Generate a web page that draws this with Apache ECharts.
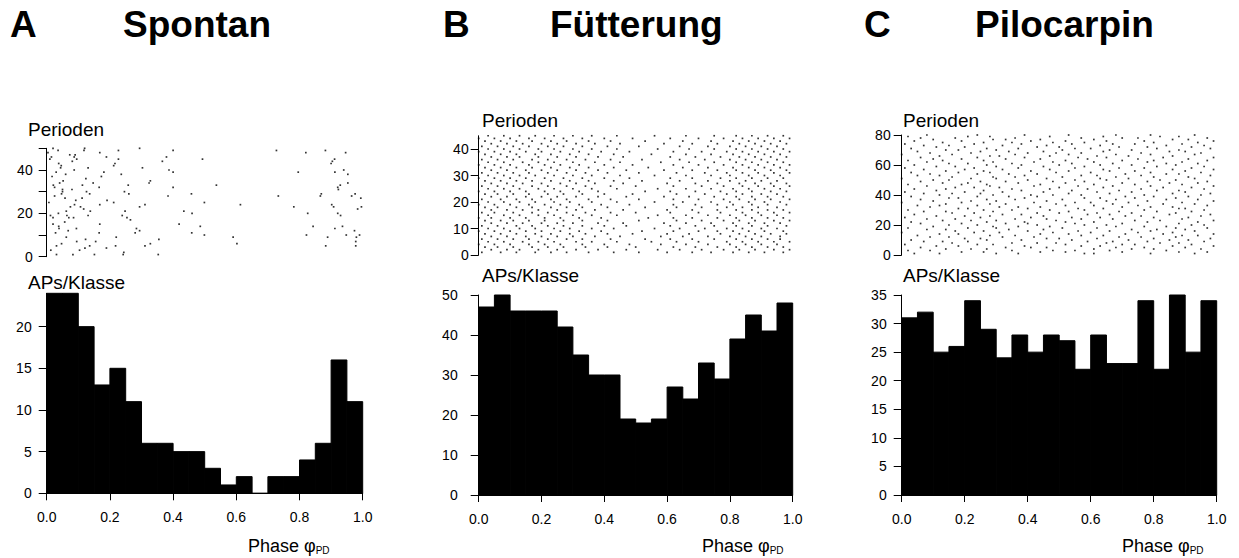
<!DOCTYPE html>
<html>
<head>
<meta charset="utf-8">
<script src="https://cdn.jsdelivr.net/npm/echarts@6/dist/echarts.min.js"></script>
<style>
  html, body { margin: 0; padding: 0; background: #fff; }
  #chart { width: 1239px; height: 558px; }
</style>
</head>
<body>
<div id="chart"></div>
<script>
// Phase histograms: action potentials per class (20 classes of width 0.05)
const binWidth = 0.05;
const histSpontan = [24, 24, 20, 13, 15, 11, 6, 6, 5, 5, 3, 1, 2, 0, 2, 2, 4, 6, 16, 11];
const histFuetterung = [47, 50, 46, 46, 46, 42, 35, 30, 30, 19, 18, 19, 27, 24, 33, 29, 39, 45, 41, 48];
const histPilocarpin = [31, 32, 25, 26, 34, 29, 24, 28, 25, 28, 27, 22, 28, 23, 23, 34, 22, 35, 25, 34];

// Axis ticks
const phaseTicks = [0, 0.2, 0.4, 0.6, 0.8, 1.0];
const periodTicksA = [0, 10, 20, 30, 40, 50];
const periodLabelsA = [0, 20, 40];
const periodTicksB = [0, 10, 20, 30, 40];
const periodTicksC = [0, 20, 40, 60, 80];
const countTicksA = [0, 5, 10, 15, 20];
const countTicksB = [0, 10, 20, 30, 40, 50];
const countTicksC = [0, 5, 10, 15, 20, 25, 30, 35];

// Raster, spontaneous: [phase, period]
const rasterSpontan = [
  [0.02, 50], [0.036, 49], [0.12, 50], [0.118, 49], [0.294, 50], [0.40, 49], [0.227, 49], [0.168, 48],
  [0.727, 49], [0.82, 48], [0.882, 49], [0.946, 48],
  [0.015, 46], [0.01, 45], [0.09, 47], [0.087, 46], [0.095, 45], [0.189, 46], [0.227, 45], [0.379, 46],
  [0.366, 44], [0.493, 45], [0.911, 45], [0.904, 44], [0.90, 43],
  [0.038, 43], [0.081, 44], [0.216, 43], [0.212, 42], [0.044, 41], [0.131, 41], [0.303, 41],
  [0.387, 40], [0.40, 39], [0.087, 40], [0.181, 39], [0.173, 37], [0.06, 38], [0.017, 37], [0.236, 38],
  [0.796, 39], [0.912, 39], [0.94, 40], [0.953, 38],
  [0.052, 35], [0.041, 34], [0.113, 33], [0.124, 36], [0.147, 34], [0.328, 35], [0.324, 34], [0.258, 33],
  [0.537, 33], [0.929, 33], [0.953, 34],
  [0.025, 32], [0.05, 31], [0.047, 29], [0.08, 31], [0.166, 32], [0.126, 30], [0.136, 29], [0.246, 30],
  [0.26, 29], [0.40, 32], [0.923, 31], [0.921, 32], [0.384, 28], [0.458, 29], [0.733, 28], [0.869, 29],
  [0.866, 28], [0.976, 29], [0.965, 28], [0.994, 27],
  [0.007, 25], [0.112, 27], [0.168, 24], [0.191, 26], [0.212, 25], [0.088, 24], [0.075, 23], [0.107, 23],
  [0.294, 23], [0.311, 24], [0.499, 25], [0.613, 24], [0.782, 23], [0.902, 24], [0.908, 23], [0.984, 22], [0.996, 23],
  [0.117, 22], [0.138, 21], [0.248, 21], [0.239, 19], [0.434, 21], [0.46, 20], [0.826, 20], [0.921, 20],
  [0.93, 19], [0.037, 20], [0.064, 19], [0.085, 18], [0.012, 19], [0.131, 19], [0.254, 18], [0.265, 17],
  [0.284, 13], [0.294, 12], [0.419, 15], [0.486, 14], [0.843, 14], [0.912, 13], [0.936, 14], [0.974, 12],
  [0.02, 15], [0.038, 14], [0.094, 13], [0.166, 11], [0.168, 15], [0.22, 9], [0.28, 11], [0.459, 11],
  [0.499, 10], [0.822, 10], [0.889, 9], [0.948, 10], [0.98, 9], [0.99, 10],
  [0.062, 9], [0.123, 8], [0.136, 5], [0.155, 7], [0.189, 4], [0.218, 5], [0.244, 2], [0.355, 8],
  [0.328, 6], [0.311, 5], [0.59, 9], [0.602, 6], [0.978, 7], [0.883, 5], [0.978, 5], [0.031, 5],
  [0.047, 6], [0.083, 1], [0.104, 3], [0.121, 4], [0.151, 1], [0.242, 1], [0.353, 1], [0.031, 1],
  [0.004, 48], [0.021, 33], [0.025, 28], [0.02, 18], [0.028, 11], [0.039, 13], [0.046, 42], [0.05, 30],
  [0.057, 16], [0.062, 21], [0.07, 18], [0.073, 47], [0.058, 27], [0.092, 26], [0.03, 39], [0.068, 12],
  [0.095, 7], [0.013, 3]
];

// Raster, feeding: phases (in 1/100) for periods 1..45
const rasterFuetterung = [
  [1, 7, 12, 18, 23, 28, 35, 43, 51, 60, 68, 74, 81, 86, 91, 97],
  [4, 9, 13, 19, 25, 31, 38, 47, 57, 64, 71, 78, 83, 88, 94, 99],
  [2, 6, 11, 17, 22, 27, 34, 41, 50, 62, 69, 76, 82, 87, 92, 97],
  [0, 5, 10, 16, 21, 26, 33, 40, 48, 58, 66, 73, 80, 85, 90, 95],
  [3, 8, 14, 19, 24, 31, 36, 44, 55, 63, 70, 79, 84, 89, 94, 99],
  [1, 6, 11, 16, 22, 28, 33, 42, 53, 61, 68, 75, 82, 87, 92, 96],
  [4, 9, 15, 20, 25, 30, 37, 45, 58, 65, 73, 80, 85, 90, 96],
  [2, 7, 12, 18, 23, 29, 34, 41, 49, 60, 67, 77, 83, 88, 93, 98],
  [0, 5, 10, 15, 20, 26, 32, 39, 52, 62, 70, 76, 81, 86, 91, 97],
  [3, 8, 13, 18, 24, 29, 36, 43, 56, 64, 72, 79, 84, 90, 95],
  [1, 6, 12, 17, 22, 27, 33, 40, 47, 61, 69, 75, 82, 87, 92, 98],
  [4, 9, 14, 20, 25, 30, 38, 46, 59, 66, 74, 81, 86, 91, 96],
  [2, 7, 11, 16, 21, 27, 33, 41, 51, 63, 71, 78, 83, 88, 94, 99],
  [0, 4, 10, 15, 21, 26, 32, 39, 54, 62, 68, 76, 82, 87, 92, 97],
  [3, 8, 13, 19, 24, 30, 36, 44, 57, 66, 73, 80, 85, 90, 95],
  [1, 5, 11, 17, 22, 28, 34, 42, 50, 61, 70, 77, 84, 89, 94, 99],
  [4, 9, 14, 19, 25, 31, 37, 46, 60, 68, 76, 82, 87, 92, 97],
  [2, 6, 12, 17, 23, 28, 33, 41, 53, 63, 71, 79, 84, 89, 95],
  [0, 5, 10, 16, 21, 26, 32, 39, 48, 62, 69, 76, 81, 87, 92, 98],
  [3, 8, 13, 18, 24, 29, 36, 44, 56, 65, 74, 80, 86, 91, 96],
  [1, 7, 12, 17, 23, 28, 35, 42, 51, 62, 70, 78, 83, 88, 93, 99],
  [4, 9, 15, 20, 25, 31, 38, 47, 59, 67, 75, 82, 87, 92, 97],
  [2, 6, 11, 16, 22, 27, 33, 40, 49, 63, 72, 79, 84, 90, 95],
  [0, 5, 10, 15, 21, 26, 32, 38, 53, 61, 69, 77, 82, 87, 93, 98],
  [3, 8, 13, 19, 24, 30, 36, 44, 57, 66, 74, 81, 86, 91, 96],
  [1, 6, 11, 17, 22, 28, 34, 42, 50, 62, 71, 78, 84, 89, 94, 99],
  [4, 9, 14, 20, 26, 31, 37, 46, 60, 69, 76, 83, 88, 93, 98],
  [2, 7, 12, 17, 23, 29, 35, 43, 52, 64, 73, 80, 85, 90, 95],
  [0, 5, 10, 15, 21, 27, 33, 40, 48, 61, 68, 77, 82, 87, 92, 97],
  [3, 8, 13, 18, 24, 30, 36, 45, 56, 66, 74, 80, 86, 91, 96],
  [1, 6, 11, 16, 22, 28, 34, 41, 51, 63, 72, 79, 84, 89, 94, 99],
  [4, 9, 15, 20, 25, 31, 38, 47, 59, 68, 76, 82, 88, 93, 98],
  [2, 7, 12, 17, 23, 29, 35, 43, 54, 65, 73, 81, 86, 91, 96],
  [0, 5, 10, 16, 21, 26, 32, 40, 49, 62, 70, 78, 84, 89, 94, 99],
  [3, 8, 14, 19, 24, 30, 37, 45, 58, 67, 75, 82, 87, 92, 97],
  [1, 6, 11, 17, 22, 28, 34, 42, 52, 64, 72, 80, 85, 90, 95],
  [4, 9, 13, 19, 25, 31, 38, 46, 61, 69, 77, 83, 88, 93, 98],
  [2, 7, 12, 18, 23, 29, 35, 43, 55, 66, 74, 81, 86, 91, 96],
  [0, 5, 10, 15, 20, 26, 32, 39, 48, 62, 71, 79, 84, 89, 94, 99],
  [3, 8, 13, 19, 24, 30, 36, 44, 57, 67, 75, 82, 87, 92, 97],
  [1, 6, 11, 16, 22, 27, 33, 41, 51, 64, 73, 80, 85, 90, 95],
  [4, 9, 14, 20, 25, 31, 37, 45, 59, 68, 76, 83, 88, 93, 98],
  [2, 7, 12, 17, 23, 28, 35, 42, 53, 65, 74, 81, 86, 91, 96],
  [0, 5, 10, 16, 21, 27, 33, 40, 49, 61, 70, 78, 84, 89, 94, 99],
  [3, 8, 13, 18, 24, 30, 36, 44, 56, 66, 75, 82, 87, 92, 97]
];

// Raster, pilocarpine: phases (in 1/100) for periods 1..80
const rasterPilocarpin = [
  [4, 12, 30, 37, 58, 61, 79, 93], [19, 26, 44, 52, 70, 88, 97], [2, 9, 35, 48, 55, 66, 84],
  [14, 22, 27, 61, 73, 80, 95], [6, 33, 41, 46, 68, 77, 90], [11, 18, 39, 57, 63, 86, 99],
  [1, 24, 29, 52, 70, 74, 92], [16, 35, 43, 49, 65, 82, 88], [7, 13, 21, 59, 67, 78, 96],
  [3, 27, 38, 54, 72, 85, 91], [20, 25, 46, 50, 62, 80, 98], [9, 15, 32, 42, 69, 76, 87],
  [5, 28, 36, 57, 64, 89, 94], [12, 18, 44, 53, 71, 83, 99], [0, 23, 31, 48, 60, 75, 86],
  [17, 26, 40, 56, 66, 79, 93], [8, 14, 34, 45, 73, 81, 90], [2, 21, 30, 51, 62, 87, 97],
  [10, 29, 37, 47, 68, 77, 84], [15, 24, 43, 58, 65, 92, 96], [6, 19, 33, 40, 55, 70, 88],
  [3, 27, 39, 52, 61, 78, 94], [13, 22, 30, 49, 74, 82, 99], [8, 17, 36, 46, 57, 67, 89],
  [1, 25, 41, 54, 63, 80, 91], [11, 20, 28, 45, 71, 76, 95], [4, 32, 38, 59, 66, 85, 98],
  [16, 23, 43, 50, 62, 73, 87], [7, 14, 29, 53, 69, 81, 92], [2, 26, 35, 47, 58, 77, 96],
  [18, 21, 40, 56, 64, 88, 90], [9, 31, 37, 44, 70, 79, 86], [5, 12, 24, 52, 61, 75, 97],
  [14, 28, 33, 49, 67, 83, 93], [0, 19, 42, 55, 60, 72, 89], [10, 22, 30, 46, 65, 78, 99],
  [6, 27, 36, 51, 68, 84, 94], [15, 18, 39, 58, 63, 74, 87], [3, 24, 34, 43, 71, 80, 91],
  [12, 29, 41, 48, 57, 77, 95], [7, 16, 25, 53, 66, 86, 98], [1, 20, 32, 45, 62, 73, 90],
  [11, 26, 38, 54, 69, 81, 88], [4, 14, 35, 47, 59, 76, 96], [17, 23, 31, 50, 64, 83, 92],
  [8, 28, 42, 56, 67, 79, 99], [2, 19, 27, 44, 61, 74, 89], [13, 21, 37, 52, 70, 85, 94],
  [6, 25, 33, 48, 58, 78, 97], [10, 15, 40, 55, 65, 82, 87], [0, 22, 30, 46, 63, 72, 93],
  [16, 29, 36, 51, 68, 80, 91], [5, 12, 39, 57, 62, 76, 98], [9, 24, 34, 43, 71, 84, 88],
  [3, 18, 28, 49, 60, 79, 95], [14, 26, 41, 53, 66, 74, 90], [7, 20, 32, 47, 64, 86, 99],
  [1, 23, 37, 55, 69, 77, 92], [11, 17, 30, 45, 58, 81, 96], [4, 27, 38, 50, 63, 73, 87],
  [15, 21, 35, 54, 67, 84, 94], [8, 29, 42, 48, 61, 78, 89], [2, 13, 26, 52, 70, 80, 97],
  [10, 19, 33, 44, 59, 75, 91], [6, 24, 39, 56, 65, 83, 99], [12, 28, 31, 47, 62, 72, 86],
  [0, 16, 36, 53, 68, 79, 93], [9, 22, 40, 49, 57, 76, 95], [5, 25, 34, 45, 64, 85, 90],
  [14, 18, 30, 51, 66, 73, 88], [3, 27, 37, 55, 60, 81, 98], [11, 20, 43, 50, 69, 78, 92],
  [7, 15, 32, 46, 63, 84, 96], [1, 23, 38, 54, 67, 74, 89], [13, 26, 35, 48, 58, 80, 94],
  [4, 19, 41, 52, 65, 77, 99], [10, 29, 33, 44, 61, 86, 91], [6, 17, 36, 57, 70, 75, 97],
  [2, 21, 28, 47, 64, 82, 88], [8, 24, 39, 53, 68, 79, 93]
];

// Rows of hundredths -> [phase, period] points
function rowsToPoints(rows) {
  const pts = [];
  rows.forEach((row, i) => row.forEach(v => pts.push([v / 100, i + 1])));
  return pts;
}
// Histogram classes -> [start, end, count]
function binsOf(counts) {
  return counts.map((c, i) => [i * binWidth, (i + 1) * binWidth, c]);
}

const FONT = 'Liberation Sans, Arial, sans-serif';
const ink = '#000';

function histItem(params, api) {
  const top = api.coord([api.value(0), api.value(2)]);
  const base = api.coord([api.value(1), 0]);
  return {
    type: 'rect',
    shape: { x: top[0], y: top[1], width: base[0] - top[0], height: base[1] - top[1] },
    style: { fill: ink, stroke: ink, lineWidth: 1 }
  };
}

const panels = [
  { raster: rasterSpontan, hist: histSpontan, left: 46.7, width: 316,
    rTop: 148.3, rHeight: 108.4, rMax: 50, rTicks: periodTicksA, rLabels: periodLabelsA, rMargin: 14,
    hTop: 293.3, hMax: 24, hTicks: countTicksA, hMargin: 15 },
  { raster: rowsToPoints(rasterFuetterung), hist: histFuetterung, left: 478.7, width: 314,
    rTop: 135.75, rHeight: 119.25, rMax: 45, rTicks: periodTicksB, rLabels: periodTicksB, rMargin: 10,
    hTop: 295, hMax: 50, hTicks: countTicksB, hMargin: 21 },
  { raster: rowsToPoints(rasterPilocarpin), hist: histPilocarpin, left: 901.7, width: 315,
    rTop: 135, rHeight: 120, rMax: 80, rTicks: periodTicksC, rLabels: periodTicksC, rMargin: 11,
    hTop: 295, hMax: 35, hTicks: countTicksC, hMargin: 15 }
];

const grid = [], xAxis = [], yAxis = [], series = [];
const lineStyle = { color: ink, width: 1 };
const labelStyle = { color: ink, fontFamily: FONT, fontSize: 14 };

panels.forEach((p, k) => {
  const gr = 2 * k, gh = 2 * k + 1;
  grid.push({ left: p.left, top: p.rTop, width: p.width, height: p.rHeight, containLabel: false });
  grid.push({ left: p.left, top: p.hTop, width: p.width, height: 200, containLabel: false });

  // raster: phase axis hidden, period axis shown
  xAxis.push({ gridIndex: gr, type: 'value', min: 0, max: 1, show: false });
  yAxis.push({
    gridIndex: gr, type: 'value', min: 0, max: p.rMax, splitLine: { show: false },
    axisLine: { show: true, lineStyle }, axisTick: { show: true, length: 8, lineStyle, customValues: p.rTicks },
    axisLabel: { ...labelStyle, margin: p.rMargin, customValues: p.rLabels }
  });
  // histogram axes
  xAxis.push({
    gridIndex: gh, type: 'value', min: 0, max: 1, splitLine: { show: false },
    axisLine: { show: true, onZero: false, lineStyle }, axisTick: { show: true, length: 7, lineStyle, customValues: phaseTicks },
    axisLabel: { ...labelStyle, margin: 17, customValues: phaseTicks, formatter: v => v.toFixed(1) }
  });
  yAxis.push({
    gridIndex: gh, type: 'value', min: 0, max: p.hMax, splitLine: { show: false },
    axisLine: { show: true, lineStyle }, axisTick: { show: true, length: 8, lineStyle, customValues: p.hTicks },
    axisLabel: { ...labelStyle, margin: p.hMargin, customValues: p.hTicks }
  });

  series.push({
    type: 'scatter', xAxisIndex: gr, yAxisIndex: gr, data: p.raster,
    symbol: 'rect', symbolSize: 1.7, itemStyle: { color: ink }, silent: true, animation: false
  });
  series.push({
    type: 'custom', xAxisIndex: gh, yAxisIndex: gh, data: binsOf(p.hist),
    encode: { x: [0, 1], y: 2 }, renderItem: histItem, silent: true, animation: false, z: 1
  });
});

function label(x, y, text, size, weight) {
  return { type: 'text', x, y, style: { text, fill: ink, fontFamily: FONT, fontSize: size, fontWeight: weight || 'normal', verticalAlign: 'middle' } };
}
function phaseLabel(x, y) {
  return {
    type: 'text', x, y,
    style: {
      text: '{m|Phase φ}{s|PD}', fill: ink, verticalAlign: 'middle',
      rich: {
        m: { fontFamily: FONT, fontSize: 18, fill: ink },
        s: { fontFamily: FONT, fontSize: 10, fill: ink, padding: [9, 0, 0, 0] }
      }
    }
  };
}

const graphic = [
  label(10, 24, 'A', 37, 'bold'), label(123, 24, 'Spontan', 37, 'bold'),
  label(443, 24, 'B', 37, 'bold'), label(550, 24, 'Fütterung', 37, 'bold'),
  label(864, 24, 'C', 37, 'bold'), label(975, 24, 'Pilocarpin', 37, 'bold'),
  label(28, 129, 'Perioden', 19), label(482, 120, 'Perioden', 19), label(903, 120, 'Perioden', 19),
  label(28, 282, 'APs/Klasse', 19), label(482, 275, 'APs/Klasse', 19), label(903, 275, 'APs/Klasse', 19),
  phaseLabel(248, 546), phaseLabel(702, 546), phaseLabel(1122, 546)
];

const chart = echarts.init(document.getElementById('chart'), null, { renderer: 'svg' });
chart.setOption({
  backgroundColor: '#fff',
  animation: false,
  grid, xAxis, yAxis, series, graphic
});
</script>
</body>
</html>
